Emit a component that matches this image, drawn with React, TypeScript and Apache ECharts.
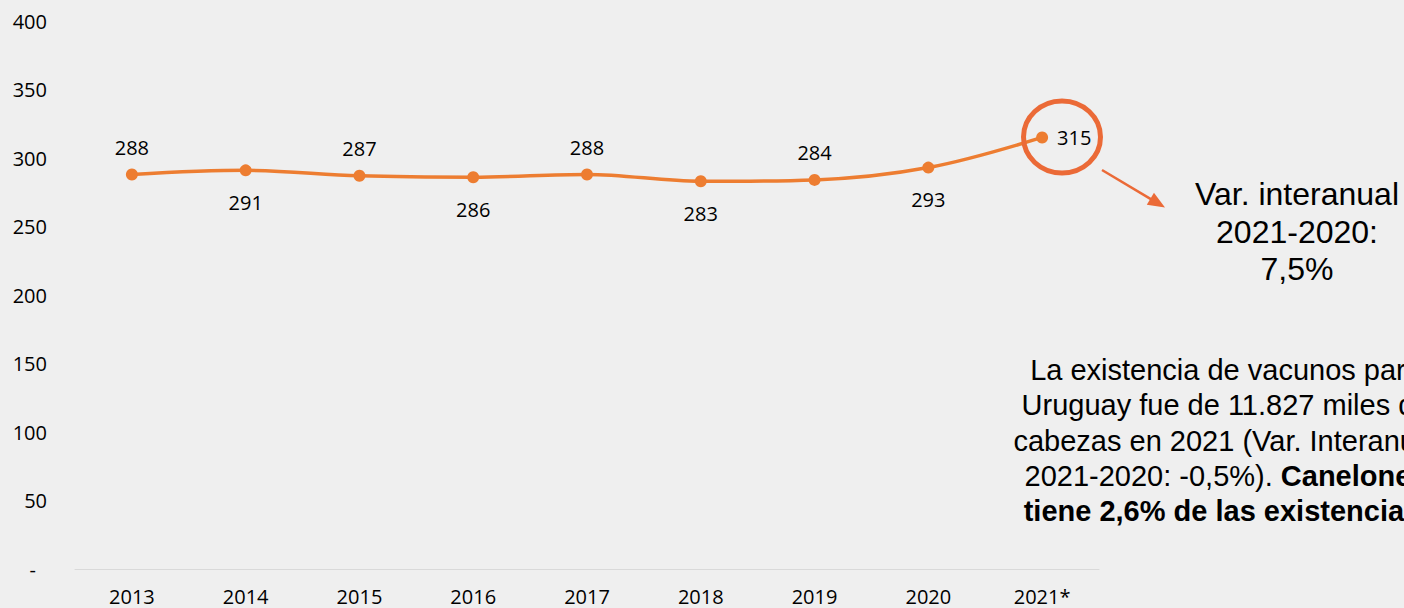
import React, { useEffect, useRef } from "react";
import * as echarts from "echarts";

const years = ["2013", "2014", "2015", "2016", "2017", "2018", "2019", "2020", "2021*"];
const values = [288, 291, 287, 286, 288, 283, 284, 293, 315];
const labelPositions = ["top", "bottom", "top", "bottom", "top", "bottom", "top", "bottom", "right"];
const yTicks = [0, 50, 100, 150, 200, 250, 300, 350, 400];

const noteLines = ["Var. interanual", "2021-2020:", "7,5%"];
const paragraph =
  "La existencia de vacunos para\nUruguay fue de 11.827 miles de\ncabezas en 2021 (Var. Interanual\n2021-2020: -0,5%). {b|Canelones}\n{b|tiene 2,6% de las existencias.}";

const LINE = "#ED7D31";
const MARK = "#EB6A37";
const LABEL_FONT = "'Open Sans', sans-serif";
const NOTE_FONT = "'Liberation Sans', Arial, sans-serif";

export default function App() {
  const ref = useRef<HTMLDivElement>(null);

  useEffect(() => {
    if (!ref.current) return;
    const chart = echarts.init(ref.current, undefined, { renderer: "svg" });

    const start = [1102, 170];
    const tip = [1165, 207.5];
    const dx = tip[0] - start[0];
    const dy = tip[1] - start[1];
    const len = Math.sqrt(dx * dx + dy * dy);
    const ux = dx / len;
    const uy = dy / len;
    const headLen = 17;
    const headHalf = 7;
    const bx = tip[0] - ux * headLen;
    const by = tip[1] - uy * headLen;
    const nx = -uy;
    const ny = ux;

    chart.setOption({
      animation: false,
      backgroundColor: "#EFEFEF",
      grid: { left: 75, right: 305, top: 21, bottom: 39, containLabel: false },
      xAxis: {
        type: "category",
        data: years,
        boundaryGap: true,
        axisLine: { show: true, lineStyle: { color: "#D9D9D9", width: 1 } },
        axisTick: { show: false },
        axisLabel: {
          color: "#000",
          fontFamily: LABEL_FONT,
          fontSize: 20,
          margin: 17,
        },
        splitLine: { show: false },
      },
      yAxis: {
        type: "value",
        min: yTicks[0],
        max: yTicks[yTicks.length - 1],
        interval: 50,
        axisLine: { show: false },
        axisTick: { show: false },
        splitLine: { show: false },
        axisLabel: {
          color: "#000",
          fontFamily: LABEL_FONT,
          fontSize: 20,
          margin: 28,
          formatter: (v: number) => (v === 0 ? "{d|-}" : String(v)),
          rich: {
            d: { fontFamily: LABEL_FONT, fontSize: 20, color: "#000", padding: [0, 11, 0, 0] },
          },
        },
      },
      series: [
        {
          type: "line",
          data: values.map((v, i) => ({
            value: v,
            label: {
              position: labelPositions[i],
              distance: labelPositions[i] === "bottom" ? 16 : labelPositions[i] === "right" ? 9 : 11,
            },
          })),
          smooth: 0.35,
          symbol: "circle",
          symbolSize: 12,
          lineStyle: { color: LINE, width: 3.5 },
          itemStyle: { color: LINE },
          label: {
            show: true,
            color: "#000",
            fontFamily: LABEL_FONT,
            fontSize: 20,
          },
        },
      ],
      graphic: [
        {
          type: "ellipse",
          shape: { cx: 1062, cy: 137, rx: 38.5, ry: 36 },
          style: { fill: "none", stroke: MARK, lineWidth: 5 },
          z: 10,
        },
        {
          type: "line",
          shape: { x1: start[0], y1: start[1], x2: bx + ux * 2, y2: by + uy * 2 },
          style: { stroke: MARK, lineWidth: 2.5 },
          z: 10,
        },
        {
          type: "polygon",
          shape: {
            points: [
              [tip[0], tip[1]],
              [bx + nx * headHalf, by + ny * headHalf],
              [bx - nx * headHalf, by - ny * headHalf],
            ],
          },
          style: { fill: MARK },
          z: 10,
        },
        {
          type: "text",
          x: 1297,
          y: 231.5,
          style: {
            text: noteLines.join("\n"),
            font: `32px ${NOTE_FONT}`,
            fill: "#000",
            textAlign: "center",
            align: "center",
            textVerticalAlign: "middle",
            verticalAlign: "middle",
            lineHeight: 37.5,
          },
          z: 10,
        },
        {
          type: "text",
          x: 1226,
          y: 440.5,
          style: {
            text: paragraph,
            font: `29px ${NOTE_FONT}`,
            fontFamily: NOTE_FONT,
            fontSize: 29,
            fill: "#000",
            textAlign: "center",
            align: "center",
            textVerticalAlign: "middle",
            verticalAlign: "middle",
            lineHeight: 35.3,
            rich: {
              b: {
                fontFamily: NOTE_FONT,
                fontSize: 29,
                fontWeight: "bold",
                fill: "#000",
                lineHeight: 35.3,
              },
            },
          },
          z: 10,
        },
      ],
    });

    return () => chart.dispose();
  }, []);

  return (
    <div
      ref={ref}
      style={{ position: "fixed", left: 0, top: 0, width: 1404, height: 608 }}
    />
  );
}
